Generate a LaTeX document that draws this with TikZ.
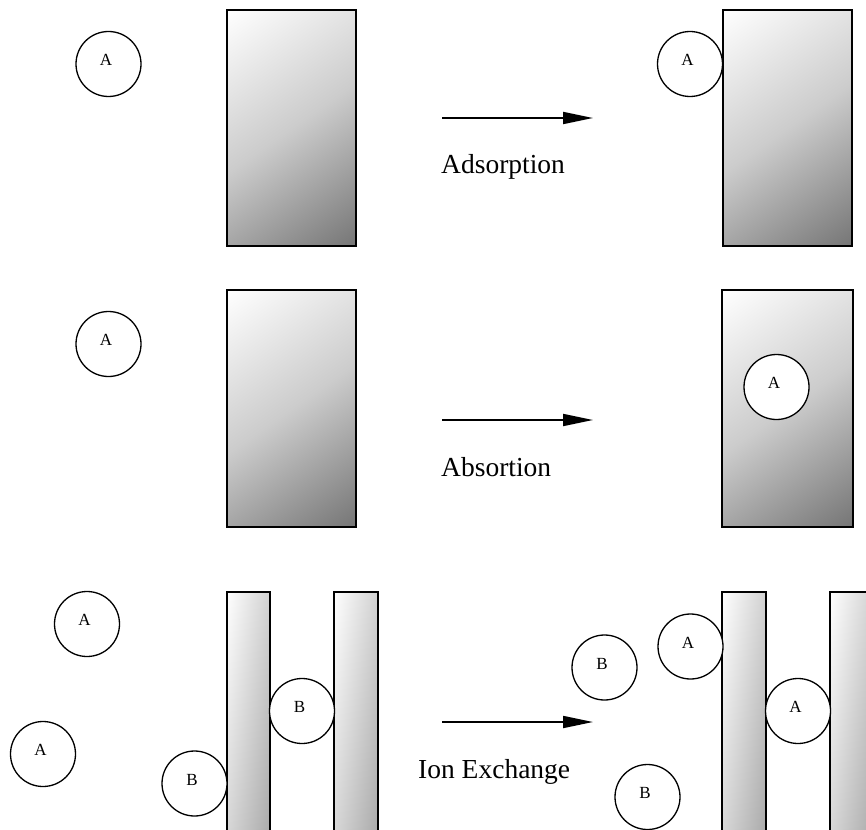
\documentclass[tikz,border=0pt]{standalone}
\usepackage{fontspec}
\setmainfont{Liberation Serif}
\usetikzlibrary{arrows.meta}
\definecolor{slabmid}{gray}{0.80}
\definecolor{slabdark}{gray}{0.46}
\definecolor{barmid}{gray}{0.83}
\definecolor{bardark}{gray}{0.66}
% wide slabs: the band 25bp..75bp spans the shaded square
\pgfdeclareverticalshading{widegrad}{100bp}{color(0bp)=(slabdark); color(25bp)=(slabdark); color(50bp)=(slabmid); color(75bp)=(white); color(100bp)=(white)}
% narrow bars: a thin band, so the fade runs across the bar's width
\pgfdeclareverticalshading{bargrad}{100bp}{color(0bp)=(bardark); color(42bp)=(bardark); color(50bp)=(barmid); color(58bp)=(white); color(100bp)=(white)}
\begin{document}
\begin{tikzpicture}[x=1pt,y=-1pt,
  slab/.style={draw=black,line width=1.4pt,
    path picture={\shade[shading=widegrad,shading angle=35] (path picture bounding box.center) circle (134pt);}},
  bar/.style={draw=black,line width=1.4pt,
    path picture={\shade[shading=bargrad,shading angle=81] (path picture bounding box.center) ++(-130,-130) rectangle ++(260,260);}},
  ball/.style={circle,draw=black,line width=1.3pt,fill=white,minimum size=65pt,inner sep=0pt},
  tag/.style={font=\fontsize{17}{20}\selectfont},
  step arrow/.style={line width=1.8pt,-{Triangle[length=30pt,width=12pt]}},
  caption/.style={font=\fontsize{27.5}{33}\selectfont,anchor=base west,inner sep=0pt}]
\useasboundingbox (0,0) rectangle (866,829);

% ---- adsorption ----
\draw[slab] (227,10) rectangle (356,246);
\draw[slab] (723,10) rectangle (852,246);
\node[ball,label={[tag,xshift=-2.5pt,yshift=4pt]center:A}] (a1) at (108.5,64) {};
\node[ball,label={[tag,xshift=-2.5pt,yshift=4pt]center:A}] (a2) at (690,64) {};
\coordinate (s1) at (442,118);
\coordinate (e1) at (593,118);
\draw[step arrow] (s1) -- (e1);
\node[caption] (t1) at (441,173) {Adsorption};

% ---- absorption ----
\draw[slab] (227,290) rectangle (356,527);
\draw[slab] (722,290) rectangle (853,527);
\node[ball,label={[tag,xshift=-2.5pt,yshift=4pt]center:A}] (b1) at (108.5,344) {};
\node[ball,label={[tag,xshift=-2.5pt,yshift=4pt]center:A}] (b2) at (776.5,387) {};
\coordinate (s2) at (442,420);
\coordinate (e2) at (593,420);
\draw[step arrow] (s2) -- (e2);
\node[caption] (t2) at (441,476) {Absortion};

% ---- ion exchange: the bars run on past the edge ----
\begin{scope}
  \clip (0,0) rectangle (866,829);
  \draw[bar] (227,592) rectangle (270,840);
  \draw[bar] (334,592) rectangle (378,840);
  \draw[bar] (722,592) rectangle (766,840);
  \draw[bar] (830,592) rectangle (874,840);
\end{scope}
\node[ball,label={[tag,xshift=-2.5pt,yshift=4pt]center:A}] (c1) at (87,624) {};
\node[ball,label={[tag,xshift=-2.5pt,yshift=4pt]center:A}] (c2) at (43,754) {};
\node[ball,label={[tag,xshift=-2.5pt,yshift=4pt]center:B}] (c3) at (194.5,783.5) {};
\node[ball,label={[tag,xshift=-2.5pt,yshift=4pt]center:B}] (c4) at (302,711) {};
\node[ball,label={[tag,xshift=-2.5pt,yshift=4pt]center:A}] (d1) at (690.5,646.5) {};
\node[ball,label={[tag,xshift=-2.5pt,yshift=4pt]center:A}] (d2) at (798,711) {};
\node[ball,label={[tag,xshift=-2.5pt,yshift=4pt]center:B}] (d3) at (604.5,667.5) {};
\node[ball,label={[tag,xshift=-2.5pt,yshift=4pt]center:B}] (d4) at (647.5,797) {};
\coordinate (s3) at (442,722);
\coordinate (e3) at (593,722);
\draw[step arrow] (s3) -- (e3);
\node[caption] (t3) at (418,778) {Ion Exchange};
\end{tikzpicture}
\end{document}
